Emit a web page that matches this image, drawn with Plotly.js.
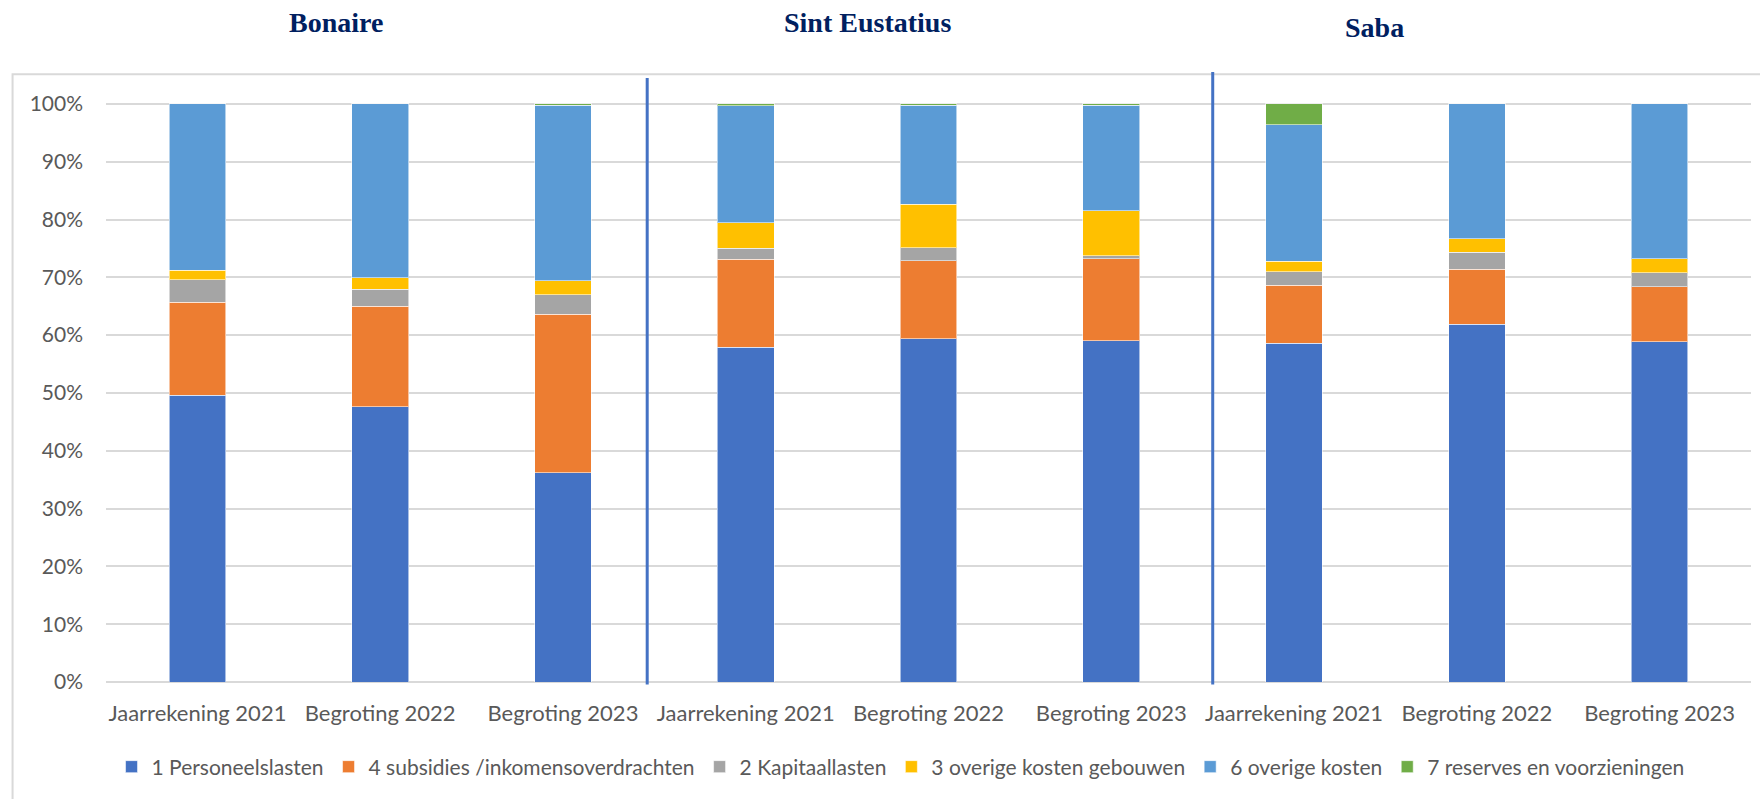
<!DOCTYPE html>
<html>
<head>
<meta charset="utf-8">
<script src="https://cdn.plot.ly/plotly-3.0.1.min.js"></script>
<style>html,body{margin:0;padding:0;background:#fff;}#chart{width:1760px;height:799px;}</style>
</head>
<body>
<div id="chart"></div>
<script>
// Categories (x positions 0..8), grouped by island
const tickLabels = ["Jaarrekening 2021","Begroting 2022","Begroting 2023",
                    "Jaarrekening 2021","Begroting 2022","Begroting 2023",
                    "Jaarrekening 2021","Begroting 2022","Begroting 2023"];
const islands = ["Bonaire","Sint Eustatius","Saba"];

// Shares (%) per category
const personeelslasten   = [49.6, 47.6, 36.2, 57.9, 59.4, 59.0, 58.6, 61.9, 58.9];
const subsidies          = [16.1, 17.4, 27.4, 15.2, 13.5, 14.2, 10.0,  9.5,  9.5];
const kapitaallasten     = [ 3.9,  2.9,  3.4,  1.9,  2.2,  0.5,  2.4,  2.9,  2.4];
const overigeGebouwen    = [ 1.6,  2.0,  2.4,  4.4,  7.5,  7.8,  1.8,  2.4,  2.4];
const overigeKosten      = [28.8, 30.1, 30.4, 20.3, 17.2, 18.3, 23.6, 23.3, 26.8];
const reserves           = [ 0.0,  0.0,  0.2,  0.3,  0.2,  0.2,  3.6,  0.0,  0.0];

const seriesNames = ["1 Personeelslasten","4 subsidies /inkomensoverdrachten","2 Kapitaallasten",
                     "3 overige kosten gebouwen","6 overige kosten","7 reserves en voorzieningen"];
const seriesValues = [personeelslasten, subsidies, kapitaallasten, overigeGebouwen, overigeKosten, reserves];
const seriesColors = ["#4472C4","#ED7D31","#A5A5A5","#FFC000","#5B9BD5","#70AD47"];

const xs = tickLabels.map((_, i) => i);

const traces = seriesNames.map((name, k) => ({
  type: "bar",
  name: name,
  x: xs,
  y: seriesValues[k].map(v => v / 100),
  marker: { color: seriesColors[k], line: { color: "rgba(255,255,255,0.55)", width: 1 } },
  hoverinfo: "name+y"
}));

const FONT = "Lato, 'Open Sans', sans-serif";
const titleFont = { family: "'Liberation Serif', 'DejaVu Serif', serif", size: 28, color: "#002060" };

const layout = {
  width: 1760, height: 799,
  margin: { l: 105.5, r: 8.5, t: 75, b: 117.3, pad: 0 },
  paper_bgcolor: "#ffffff", plot_bgcolor: "#ffffff",
  barmode: "stack",
  bargap: 0.69,
  showlegend: true,
  font: { family: FONT, size: 21, color: "#595959" },
  xaxis: {
    range: [-0.5, 8.5],
    tickmode: "array", tickvals: xs, ticktext: tickLabels,
    showgrid: false, zeroline: false, showline: false, ticks: "",
    ticklabelstandoff: 16,
    tickfont: { family: FONT, size: 22, color: "#595959" },
    fixedrange: true
  },
  yaxis: {
    range: [0, 1.05],
    tickmode: "array", tickvals: [0,0.1,0.2,0.3,0.4,0.5,0.6,0.7,0.8,0.9,1.0],
    tickformat: ".0%",
    showgrid: true, gridcolor: "#D9D9D9", gridwidth: 2,
    zeroline: true, zerolinecolor: "#D9D9D9", zerolinewidth: 2,
    showline: false, ticks: "",
    ticklabelstandoff: 22,
    tickfont: { family: FONT, size: 21, color: "#595959" },
    fixedrange: true
  },
  legend: {
    orientation: "h", traceorder: "normal",
    x: 0.483, xanchor: "center", y: -0.14, yanchor: "middle",
    font: { family: FONT, size: 21, color: "#595959" },
    itemwidth: 30, bgcolor: "rgba(0,0,0,0)"
  },
  shapes: [
    // outer chart frame
    { type: "rect", xref: "paper", yref: "paper", x0: -0.0568, x1: 1.03, y0: -0.4, y1: 1.0013,
      line: { color: "#D9D9D9", width: 2 }, fillcolor: "rgba(0,0,0,0)", layer: "below" },
    // island separators
    { type: "line", xref: "x", yref: "paper", x0: 2.461, x1: 2.461, y0: -0.004, y1: 0.995,
      line: { color: "#4472C4", width: 3 } },
    { type: "line", xref: "x", yref: "paper", x0: 5.555, x1: 5.555, y0: -0.004, y1: 1.005,
      line: { color: "#4472C4", width: 3 } }
  ],
  annotations: [
    { text: "<b>" + islands[0] + "</b>", xref: "paper", yref: "paper", x: 0.140, y: 1.0859,
      xanchor: "center", yanchor: "middle", showarrow: false, font: titleFont },
    { text: "<b>" + islands[1] + "</b>", xref: "paper", yref: "paper", x: 0.4632, y: 1.0859,
      xanchor: "center", yanchor: "middle", showarrow: false, font: titleFont },
    { text: "<b>" + islands[2] + "</b>", xref: "paper", yref: "paper", x: 0.7711, y: 1.0777,
      xanchor: "center", yanchor: "middle", showarrow: false, font: titleFont }
  ]
};

Plotly.newPlot("chart", traces, layout, { displayModeBar: false, staticPlot: true });
</script>
</body>
</html>
